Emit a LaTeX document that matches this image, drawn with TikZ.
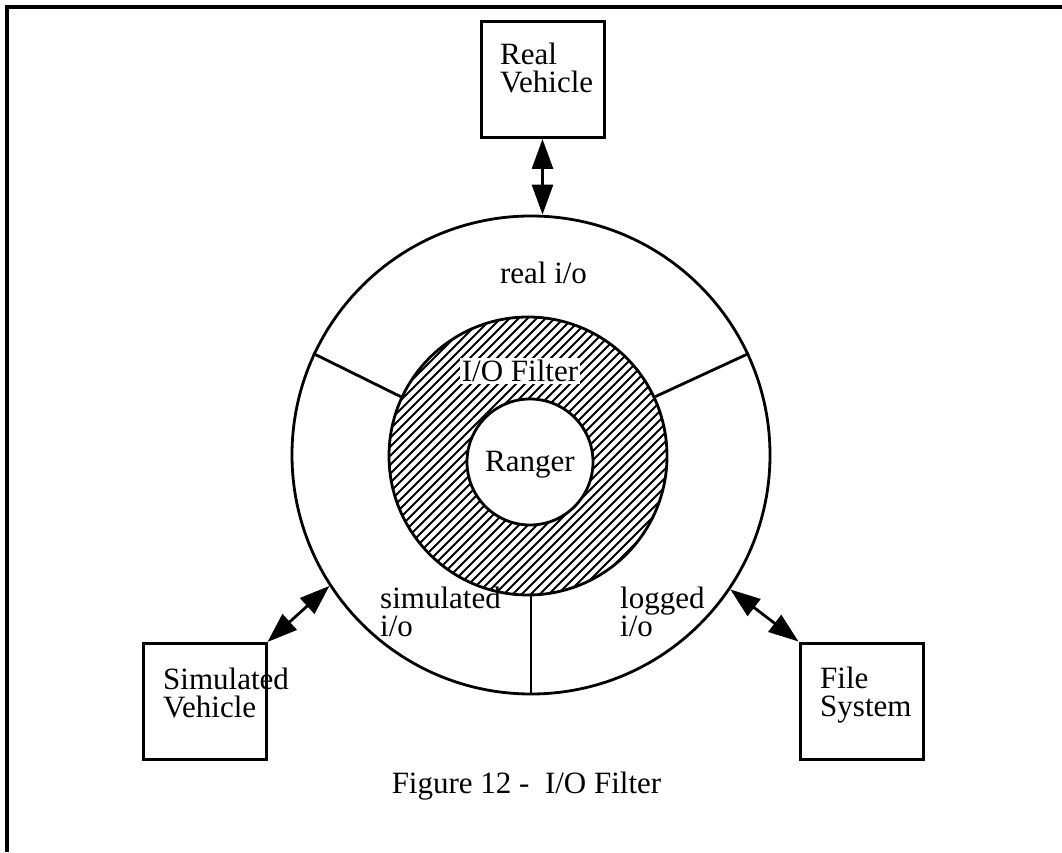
\documentclass[tikz,border=0pt]{standalone}
\usepackage{fontspec}
\setmainfont{Liberation Serif}
\usetikzlibrary{arrows.meta,positioning,calc}

\tikzset{
  vbox/.style={draw, line width=3pt, minimum width=123pt, minimum height=116pt, inner sep=0pt},
  lbl/.style={font=\fontsize{31}{28}\selectfont, align=left, inner sep=0pt},
  ringline/.style={line width=2.8pt},
  hatchline/.style={line width=2pt},
  biarrow/.style={line width=2.8pt, {Triangle[length=30pt,width=21pt]}-{Triangle[length=30pt,width=21pt]}},
}

\begin{document}
\begin{tikzpicture}[x=1pt,y=1pt]
    \useasboundingbox (0,0) rectangle (1062,852);
    % frame of the page
    \draw[line width=3.5pt] (1062,845) -- (7,845) -- (7,0);

    % hatched filter ring
    \coordinate (fcen) at (528,396);
    \begin{scope}
      \clip (fcen) circle (139pt);
      \foreach \d in {-300,-291,...,300}
        \draw[hatchline] ($(fcen)+(\d-160,-160)$) -- ($(fcen)+(\d+160,160)$);
    \end{scope}
    \node[circle, draw, ringline, minimum size=278pt] (filter) at (fcen) {};
    \node[circle, draw, ringline, fill=white, minimum size=126pt] (ranger) at (530,390) {};
    \node[circle, draw, ringline, minimum size=478pt] (outer) at (531,397) {};

    % dividers between the three i/o parts
    \draw[ringline] (outer.155) -- (filter.155);
    \draw[ringline] (outer.25) -- (filter.25);
    \draw[ringline] (outer.south) -- (outer.south |- filter.south);

    % the three outside boxes
    \node[vbox] (real) at (542.5,772.5) {};
    \node[vbox] (sim) at (204.5,150.5) {};
    \node[vbox] (file) at (861.5,151) {};
    \node[lbl, anchor=north west] (reallbl) at (500,809) {Real\\Vehicle};
    \node[lbl, anchor=north west] (simlbl) at (163,184) {Simulated\\Vehicle};
    \node[lbl, anchor=north west] (filelbl) at (820,185) {File\\System};

    \draw[biarrow] (real.south) -- (real.south |- outer.north);
    \draw[biarrow] (sim.north east) -- (outer.213);
    \draw[biarrow] (file.north west) -- (outer.326);

    % labels in the rings
    \node[lbl, anchor=base] (reallio) at (543.5,568) {real i/o};
    \node[lbl, anchor=north west] (simio) at (380,265) {simulated\\i/o};
    \node[lbl, anchor=north west] (logio) at (620,265) {logged\\i/o};
    \node[lbl, anchor=base, fill=white, inner sep=2pt] (filterlbl) at (520,470) {I/O Filter};
    \node[lbl, anchor=base] (rangerlbl) at (ranger.center |- 0,380) {Ranger};

    \node[lbl, anchor=base] (caption) at (526.5,59) {Figure 12 -~ I/O Filter};
\end{tikzpicture}
\end{document}
